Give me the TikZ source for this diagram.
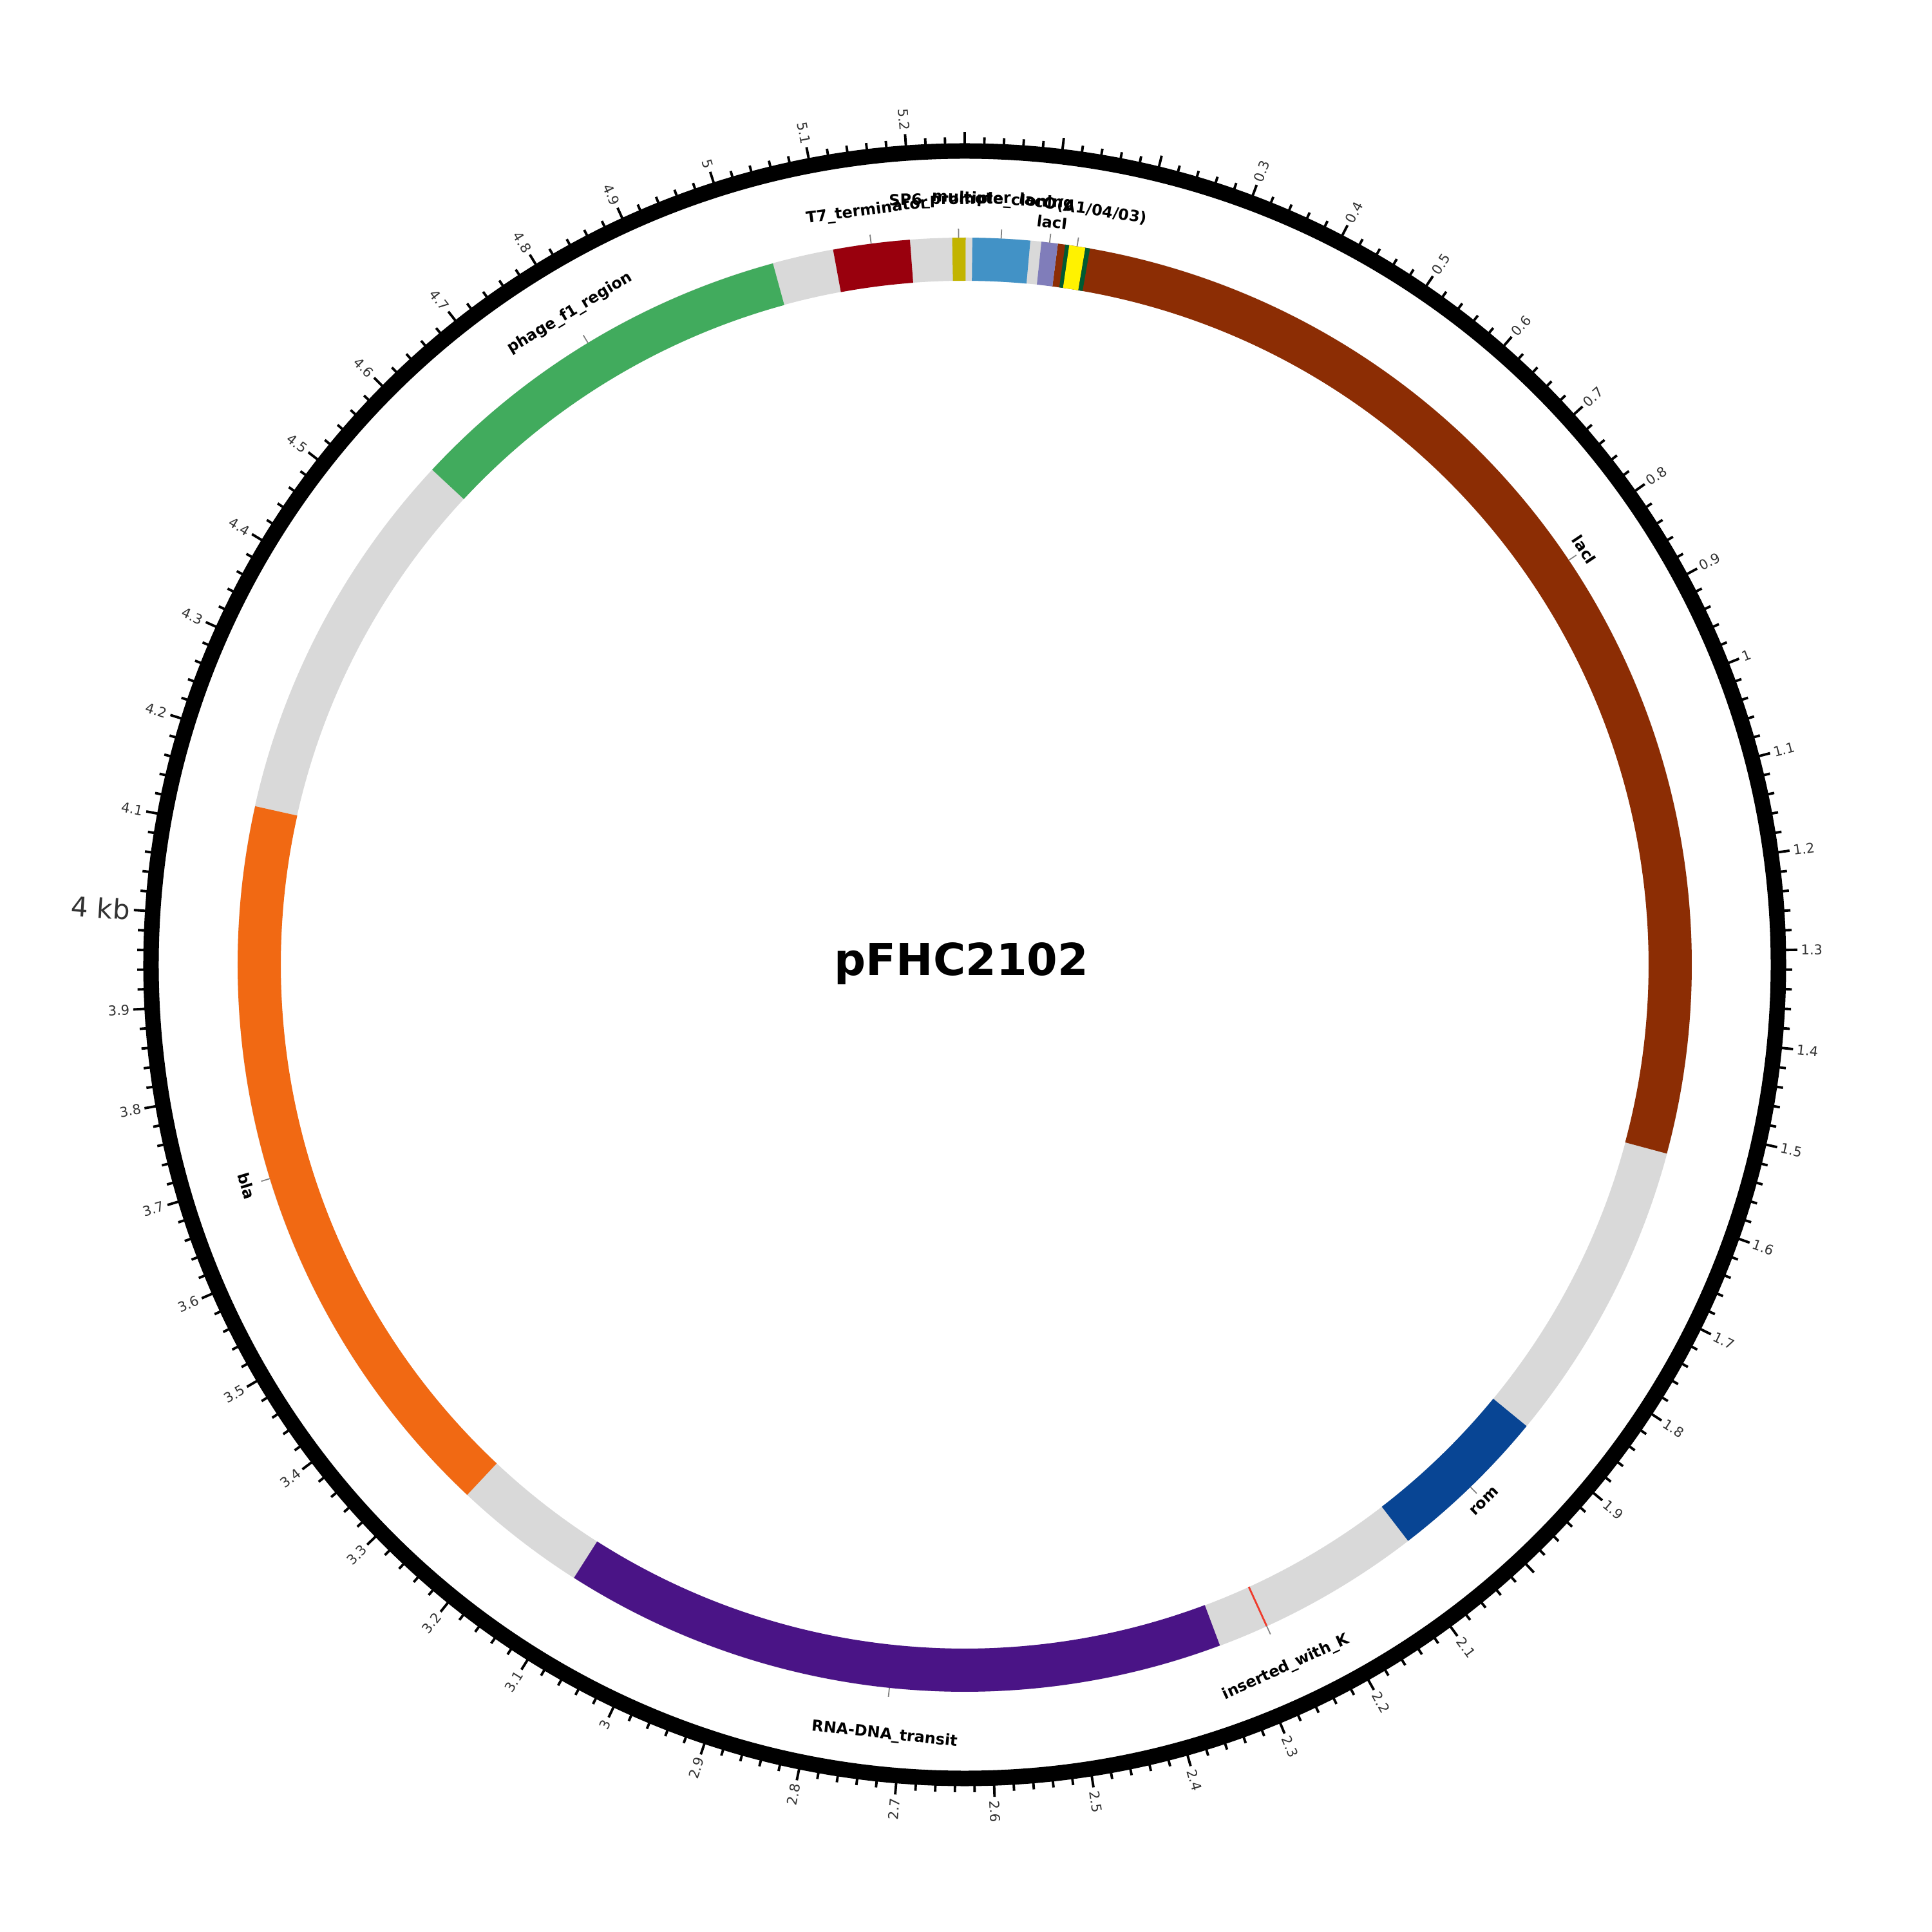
\documentclass[tikz,border=0pt]{standalone}
\usepackage{fontspec}
\setmainfont{DejaVu Sans}
\usetikzlibrary{calc}
\definecolor{bandgray}{HTML}{D9D9D9}
\definecolor{lacibrown}{HTML}{8C2D04}
\definecolor{romblue}{HTML}{084594}
\definecolor{transitpurple}{HTML}{4A1486}
\definecolor{blaorange}{HTML}{F16913}
\definecolor{fonegreen}{HTML}{41AB5D}
\definecolor{tsevenred}{HTML}{99000D}
\definecolor{spsixolive}{HTML}{C2B400}
\definecolor{mcsblue}{HTML}{4292C6}
\definecolor{lavender}{HTML}{807DBA}
\definecolor{opdkgreen}{HTML}{005A32}
\definecolor{opyellow}{HTML}{FFF200}
\definecolor{insertred}{HTML}{EF3B2C}
\newcommand{\plength}{5260}
\newcommand{\rin}{10.62}
\newcommand{\rout}{11.29}
% angle of a base position, 0 at the top, clockwise
\newcommand{\bpang}[1]{90-360*(#1/\plength)}
\newcommand{\featarc}[3]{%
  \fill[#3] ({\bpang{#1}}:\rin)
    arc[start angle={\bpang{#1}}, end angle={\bpang{#2}}, radius=\rin]
    -- ({\bpang{#2}}:\rout)
    arc[start angle={\bpang{#2}}, end angle={\bpang{#1}}, radius=\rout] -- cycle;}
\tikzset{
    featlbl/.style={font=\bfseries\fontsize{6.8}{8}\selectfont, inner sep=0pt},
    lbltick/.style={draw=gray, line width=0.5pt},
    kbtick/.style={line width=1.1pt},
    kblbl/.style={font=\fontsize{6}{7}\selectfont, inner sep=0pt, text=black!80},
}

\begin{document}
\begin{tikzpicture}
    \useasboundingbox (-14.98,-15.02) rectangle (15.02,14.98);
    % backbone ring and ticks
    \draw[line width=0.24cm] (0,0) circle (12.635);
    \foreach \b in {0,20,...,5240} {
        \pgfmathtruncatemacro\ismajor{mod(\b,100)==0 ? 1 : 0}
        \pgfmathsetmacro\ang{\bpang{\b}}
        \ifnum\ismajor=1
            \draw[kbtick] (\ang:12.72) -- (\ang:12.93);
        \else
            \draw[kbtick] (\ang:12.72) -- (\ang:12.85);
        \fi
    }
    \foreach \i in {3,...,19,21,22,...,52} {
        \pgfmathsetmacro\ang{\bpang{\i*100}}
        \pgfmathtruncatemacro\whole{\i/10}
        \pgfmathtruncatemacro\kbfrac{\i-10*\whole}
        \ifnum\kbfrac=0 \def\kbtext{\whole}\else \def\kbtext{\whole.\kbfrac}\fi
        \ifnum\i=40 \def\kbtext{\fontsize{12}{14}\selectfont 4 kb}\fi
        \ifnum\i<27
            \node[kblbl, rotate=\ang, anchor=west] (kb\i) at (\ang:12.98) {\kbtext};
        \else
            \node[kblbl, rotate=\ang+180, anchor=east] (kb\i) at (\ang:12.98) {\kbtext};
        \fi
    }
    % feature band
    \fill[bandgray, even odd rule] (0,0) circle (\rout) (0,0) circle (\rin);
    \featarc{107.7}{1535}{lacibrown}
    \featarc{116.2}{120.8}{opdkgreen}
    \featarc{120.8}{139.7}{opyellow}
    \featarc{139.7}{145}{opdkgreen}
    \featarc{88.6}{107.7}{lavender}
    \featarc{8.9}{75.7}{mcsblue}
    \featarc{5245.6}{5261.2}{spsixolive}
    \featarc{5107.6}{5196.9}{tsevenred}
    \featarc{4572}{5036.5}{fonegreen}
    \featarc{3261}{4129}{blaorange}
    \featarc{2329.8}{3105}{transitpurple}
    \featarc{1890.6}{2081}{romblue}
    \draw[insertred, line width=0.8pt] ({\bpang{2271.4}}:\rin) -- ({\bpang{2271.4}}:\rout);
    % label ticks
    \foreach \b in {821,1986,2271.4,2717,3695,4804,5152,5253,42,98,130} {
        \draw[lbltick] ({\bpang{\b}}:\rout) -- ({\bpang{\b}}:11.43);
    }
    % feature labels
    \node[featlbl, rotate=-56.19] (lblLacI) at (33.81:11.58) {lacI};
    \node[featlbl, rotate=44.08] (lblRom) at (-45.92:11.60) {rom};
    \node[featlbl, rotate=24.57] (lblInsert) at (-65.43:12.0) {inserted\_with\_K};
    \node[featlbl, rotate=-5.95] (lblTransit) at (-95.95:12.02) {RNA-DNA\_transit};
    \node[featlbl, rotate=-72.89] (lblBla) at (-162.89:11.67) {bla};
    \node[featlbl, rotate=31.21] (lblFone) at (121.21:11.83) {phage\_f1\_region};
    \node[featlbl, rotate=7.39] (lblTseven) at (97.39:11.80) {T7\_terminator};
    \node[featlbl, rotate=1.1] (lblSpsix) at (91.1:11.87) {SP6\_promoter};
    \node[featlbl, rotate=-2.87] (lblMcs) at (87.13:11.88) {multiple\_cloning};
    \node[featlbl, rotate=-6.71] (lblLacIs) at (83.29:11.61) {lacI};
    \node[featlbl, rotate=-8.9] (lblOper) at (81.1:11.88) {lacO(A1/04/03)};
    % plasmid name
    \node[font=\bfseries\fontsize{19.5}{23}\selectfont] (title) at (-0.05,0.02) {pFHC2102};
\end{tikzpicture}
\end{document}
